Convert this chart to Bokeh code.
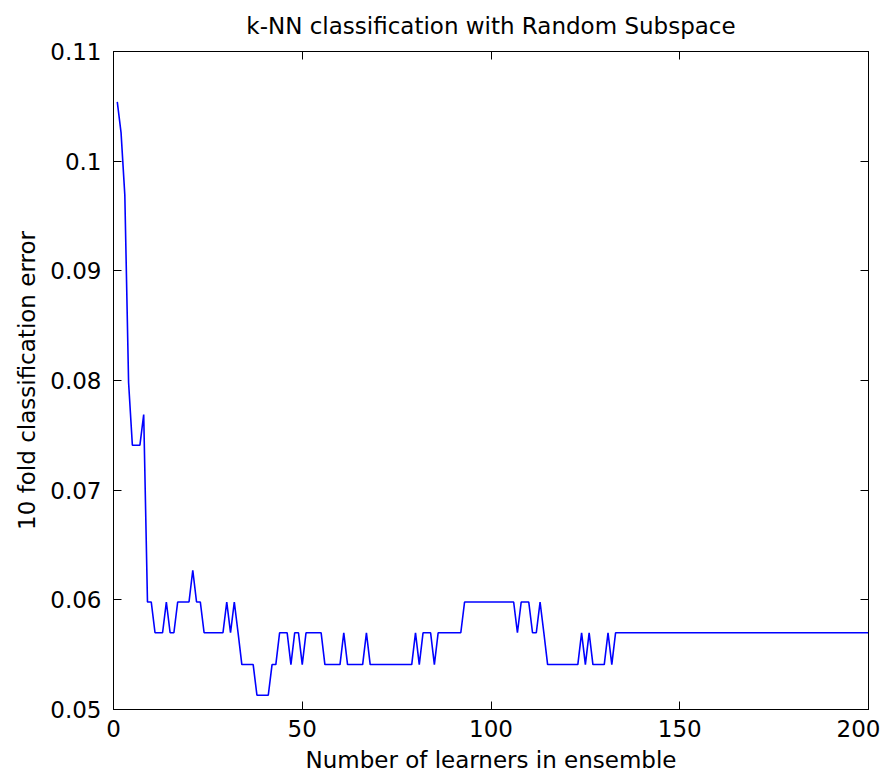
from bokeh.plotting import figure
from bokeh.models import Range1d, FixedTicker, LinearAxis, CustomJSTickFormatter
from bokeh.embed import file_html
from bokeh.resources import INLINE

# ---- data ----
learners = list(range(1, 201))
errors = [
    0.1054, 0.1026, 0.0969, 0.0798, 0.0741, 0.0741, 0.0741, 0.0769, 0.0598, 0.0598,   # 1-10
    0.0570, 0.0570, 0.0570, 0.0598, 0.0570, 0.0570, 0.0598, 0.0598, 0.0598, 0.0598,   # 11-20
    0.0627, 0.0598, 0.0598, 0.0570, 0.0570, 0.0570, 0.0570, 0.0570, 0.0570, 0.0598,   # 21-30
    0.0570, 0.0598, 0.0570, 0.0541, 0.0541, 0.0541, 0.0541, 0.0513, 0.0513, 0.0513,   # 31-40
    0.0513, 0.0541, 0.0541, 0.0570, 0.0570, 0.0570, 0.0541, 0.0570, 0.0570, 0.0541,   # 41-50
    0.0570, 0.0570, 0.0570, 0.0570, 0.0570, 0.0541, 0.0541, 0.0541, 0.0541, 0.0541,   # 51-60
    0.0570, 0.0541, 0.0541, 0.0541, 0.0541, 0.0541, 0.0570, 0.0541, 0.0541, 0.0541,   # 61-70
    0.0541, 0.0541, 0.0541, 0.0541, 0.0541, 0.0541, 0.0541, 0.0541, 0.0541, 0.0570,   # 71-80
    0.0541, 0.0570, 0.0570, 0.0570, 0.0541, 0.0570, 0.0570, 0.0570, 0.0570, 0.0570,   # 81-90
    0.0570, 0.0570, 0.0598, 0.0598, 0.0598, 0.0598, 0.0598, 0.0598, 0.0598, 0.0598,   # 91-100
    0.0598, 0.0598, 0.0598, 0.0598, 0.0598, 0.0598, 0.0570, 0.0598, 0.0598, 0.0598,   # 101-110
    0.0570, 0.0570, 0.0598, 0.0570, 0.0541, 0.0541, 0.0541, 0.0541, 0.0541, 0.0541,   # 111-120
    0.0541, 0.0541, 0.0541, 0.0570, 0.0541, 0.0570, 0.0541, 0.0541, 0.0541, 0.0541,   # 121-130
    0.0570, 0.0541, 0.0570, 0.0570, 0.0570, 0.0570, 0.0570, 0.0570, 0.0570, 0.0570,   # 131-140
    0.0570, 0.0570, 0.0570, 0.0570, 0.0570, 0.0570, 0.0570, 0.0570, 0.0570, 0.0570,   # 141-150
    0.0570, 0.0570, 0.0570, 0.0570, 0.0570, 0.0570, 0.0570, 0.0570, 0.0570, 0.0570,   # 151-160
    0.0570, 0.0570, 0.0570, 0.0570, 0.0570, 0.0570, 0.0570, 0.0570, 0.0570, 0.0570,   # 161-170
    0.0570, 0.0570, 0.0570, 0.0570, 0.0570, 0.0570, 0.0570, 0.0570, 0.0570, 0.0570,   # 171-180
    0.0570, 0.0570, 0.0570, 0.0570, 0.0570, 0.0570, 0.0570, 0.0570, 0.0570, 0.0570,   # 181-190
    0.0570, 0.0570, 0.0570, 0.0570, 0.0570, 0.0570, 0.0570, 0.0570, 0.0570, 0.0570,   # 191-200
]
x_ticks = [0, 50, 100, 150, 200]
y_ticks = [0.05, 0.06, 0.07, 0.08, 0.09, 0.10, 0.11]
title_text = "k-NN classification with Random Subspace"
x_label = "Number of learners in ensemble"
y_label = "10 fold classification error"

FONT = "DejaVu Sans"
FS = "23px"

p = figure(width=880, height=775, x_range=Range1d(0, 200), y_range=Range1d(0.05, 0.11),
           output_backend="svg", toolbar_location=None, title=title_text,
           min_border_left=113, min_border_right=12, min_border_top=51, min_border_bottom=63)

p.title.align = "center"
p.title.vertical_align = "top"
p.title.text_font = FONT
p.title.text_font_size = FS
p.title.text_font_style = "normal"
p.title.text_color = "black"
p.title.standoff = 22

p.xgrid.visible = False
p.ygrid.visible = False
p.outline_line_color = "black"
p.outline_line_width = 1
p.background_fill_color = "white"
p.border_fill_color = "white"

p.line(learners, errors, line_color="#0000ff", line_width=1.6)

for ax in (p.xaxis[0], p.yaxis[0]):
    ax.major_tick_in = 8
    ax.major_tick_out = 0
    ax.minor_tick_line_color = None
    ax.axis_line_color = "black"
    ax.major_tick_line_color = "black"
    ax.major_label_text_font = FONT
    ax.major_label_text_font_size = FS
    ax.major_label_text_color = "black"
    ax.axis_label_text_font = FONT
    ax.axis_label_text_font_size = FS
    ax.axis_label_text_font_style = "normal"
    ax.axis_label_text_color = "black"

p.xaxis[0].ticker = FixedTicker(ticks=x_ticks)
p.xaxis[0].axis_label = x_label
p.xaxis[0].major_label_standoff = 10
p.xaxis[0].axis_label_standoff = 7

p.yaxis[0].ticker = FixedTicker(ticks=y_ticks)
p.yaxis[0].formatter = CustomJSTickFormatter(code="return String(Math.round(tick*100)/100);")
p.yaxis[0].axis_label = y_label
p.yaxis[0].major_label_standoff = 12
p.yaxis[0].axis_label_standoff = 7

blank = CustomJSTickFormatter(code="return '';")
top_axis = LinearAxis(ticker=FixedTicker(ticks=x_ticks), formatter=blank,
                      major_tick_in=8, major_tick_out=0, minor_tick_line_color=None,
                      axis_line_color="black", major_label_standoff=0)
right_axis = LinearAxis(ticker=FixedTicker(ticks=y_ticks), formatter=blank,
                        major_tick_in=8, major_tick_out=0, minor_tick_line_color=None,
                        axis_line_color="black", major_label_standoff=0)
p.add_layout(top_axis, "above")
p.add_layout(right_axis, "right")

open("out.html", "w").write(file_html(p, INLINE))
